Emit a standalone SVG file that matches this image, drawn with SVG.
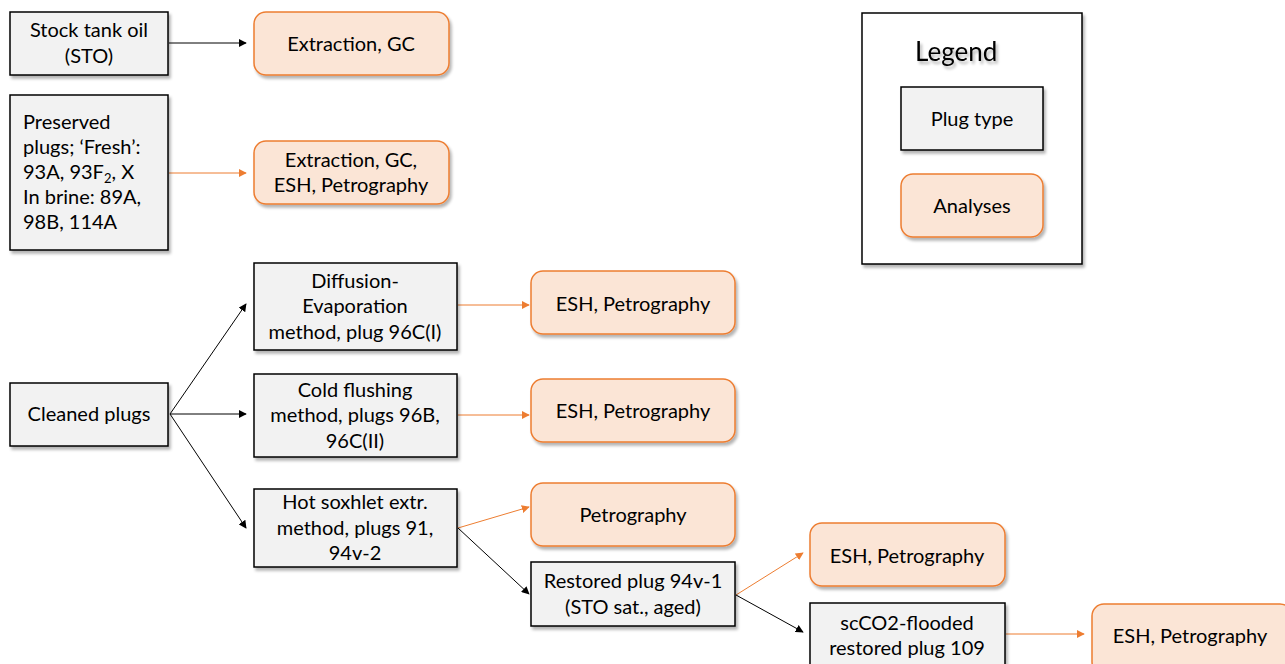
<svg xmlns="http://www.w3.org/2000/svg" width="1285" height="664" viewBox="0 0 1285 664">
<defs>
<filter id="sh" x="-10%" y="-10%" width="130%" height="130%">
<feGaussianBlur in="SourceAlpha" stdDeviation="1.5"/>
<feOffset dx="2" dy="3" result="o"/>
<feComponentTransfer><feFuncA type="linear" slope="0.3"/></feComponentTransfer>
<feMerge><feMergeNode/><feMergeNode in="SourceGraphic"/></feMerge>
</filter>
<filter id="tsh" x="-10%" y="-20%" width="130%" height="160%">
<feGaussianBlur in="SourceAlpha" stdDeviation="1.5"/>
<feOffset dx="2" dy="3"/>
<feComponentTransfer><feFuncA type="linear" slope="0.3"/></feComponentTransfer>
<feMerge><feMergeNode/><feMergeNode in="SourceGraphic"/></feMerge>
</filter>
<marker id="ab" viewBox="0 0 10 10" refX="9" refY="5" markerWidth="8" markerHeight="8" markerUnits="userSpaceOnUse" orient="auto"><path d="M0,0 L10,5 L0,10 z" fill="#000"/></marker>
<marker id="ao" viewBox="0 0 10 10" refX="9" refY="5" markerWidth="8" markerHeight="8" markerUnits="userSpaceOnUse" orient="auto"><path d="M0,0 L10,5 L0,10 z" fill="#ed7d31"/></marker>
</defs>
<style>
.p{fill:#f2f2f2;stroke:#000;stroke-width:1.5;filter:url(#sh)}
.a{fill:#fbe5d6;stroke:#ed7d31;stroke-width:1.5;filter:url(#sh)}
text{font-family:Lato,"Open Sans",sans-serif;font-size:20px;fill:#000;text-anchor:middle}
.l{text-anchor:start}
.lg{font-size:26px;text-anchor:start;filter:url(#tsh)}
.k{stroke:#000;stroke-width:1;fill:none;marker-end:url(#ab)}
.o{stroke:#ed7d31;stroke-width:1;fill:none;marker-end:url(#ao)}
</style>
<rect width="1285" height="664" fill="#fff"/>
<g id="connectors">
<line class="k" x1="169" y1="43" x2="246" y2="43"/>
<line class="o" x1="169" y1="173" x2="246" y2="173"/>
<line class="k" x1="170" y1="414" x2="246" y2="304"/>
<line class="k" x1="170" y1="414" x2="246" y2="414"/>
<line class="k" x1="170" y1="414" x2="246" y2="528"/>
<line class="o" x1="458" y1="305" x2="529" y2="305"/>
<line class="o" x1="458" y1="415" x2="529" y2="415"/>
<line class="o" x1="458" y1="528" x2="529" y2="507"/>
<line class="k" x1="458" y1="528" x2="529" y2="594"/>
<line class="o" x1="736" y1="595" x2="803" y2="553"/>
<line class="k" x1="736" y1="595" x2="803" y2="632"/>
<line class="o" x1="1006" y1="634" x2="1084" y2="634"/>
</g>
<g id="sto"><rect class="p" x="10" y="12" width="158" height="63"/><text x="89" y="37">Stock tank oil</text><text x="89" y="63">(STO)</text></g>
<g id="ext1"><rect class="a" x="254" y="12" width="195" height="63" rx="12"/><text x="351" y="51">Extraction, GC</text></g>
<g id="preserved"><rect class="p" x="10" y="95" width="158" height="155"/>
<text class="l" x="23" y="129">Preserved</text>
<text class="l" x="23" y="154">plugs; ‘Fresh’:</text>
<text class="l" x="23" y="179">93A, 93F<tspan font-size="13" dy="4">2</tspan><tspan dy="-4">, X</tspan></text>
<text class="l" x="23" y="204">In brine: 89A,</text>
<text class="l" x="23" y="229">98B, 114A</text></g>
<g id="ext2"><rect class="a" x="254" y="141" width="195" height="63" rx="12"/><text x="351" y="167">Extraction, GC,</text><text x="351" y="192">ESH, Petrography</text></g>
<g id="cleaned"><rect class="p" x="10" y="383" width="158" height="63"/><text x="89" y="421">Cleaned plugs</text></g>
<g id="diffusion"><rect class="p" x="254" y="263" width="203" height="87"/><text x="355" y="288">Diffusion-</text><text x="355" y="313">Evaporation</text><text x="355" y="339">method, plug 96C(I)</text></g>
<g id="cold"><rect class="p" x="254" y="374" width="203" height="83"/><text x="355" y="397">Cold flushing</text><text x="355" y="422">method, plugs 96B,</text><text x="355" y="448">96C(II)</text></g>
<g id="hot"><rect class="p" x="254" y="489" width="203" height="78"/><text x="355" y="509">Hot soxhlet extr.</text><text x="355" y="535">method, plugs 91,</text><text x="355" y="560">94v-2</text></g>
<g id="esh1"><rect class="a" x="531" y="271" width="204" height="63" rx="12"/><text x="633" y="311">ESH, Petrography</text></g>
<g id="esh2"><rect class="a" x="531" y="379" width="204" height="63" rx="12"/><text x="633" y="418">ESH, Petrography</text></g>
<g id="petro"><rect class="a" x="531" y="483" width="204" height="63" rx="12"/><text x="633" y="522">Petrography</text></g>
<g id="restored"><rect class="p" x="531" y="562" width="204" height="64"/><text x="633" y="588">Restored plug 94v-1</text><text x="633" y="614">(STO sat., aged)</text></g>
<g id="esh3"><rect class="a" x="810" y="523" width="195" height="63" rx="12"/><text x="907" y="563">ESH, Petrography</text></g>
<g id="scco2"><rect class="p" x="810" y="603" width="195" height="70"/><text x="907" y="630">scCO2-flooded</text><text x="907" y="655">restored plug 109</text></g>
<g id="esh4"><rect class="a" x="1092" y="604" width="200" height="70" rx="12"/><text x="1190" y="643">ESH, Petrography</text></g>
<g id="legend"><rect x="862" y="13" width="220" height="251" fill="#fff" stroke="#000" stroke-width="1.5" filter="url(#sh)"/>
<text class="lg" x="915" y="61">Legend</text>
<rect class="p" x="901" y="87" width="142" height="63"/><text x="972" y="126">Plug type</text>
<rect class="a" x="901" y="174" width="142" height="63" rx="12"/><text x="972" y="213">Analyses</text></g>
</svg>
